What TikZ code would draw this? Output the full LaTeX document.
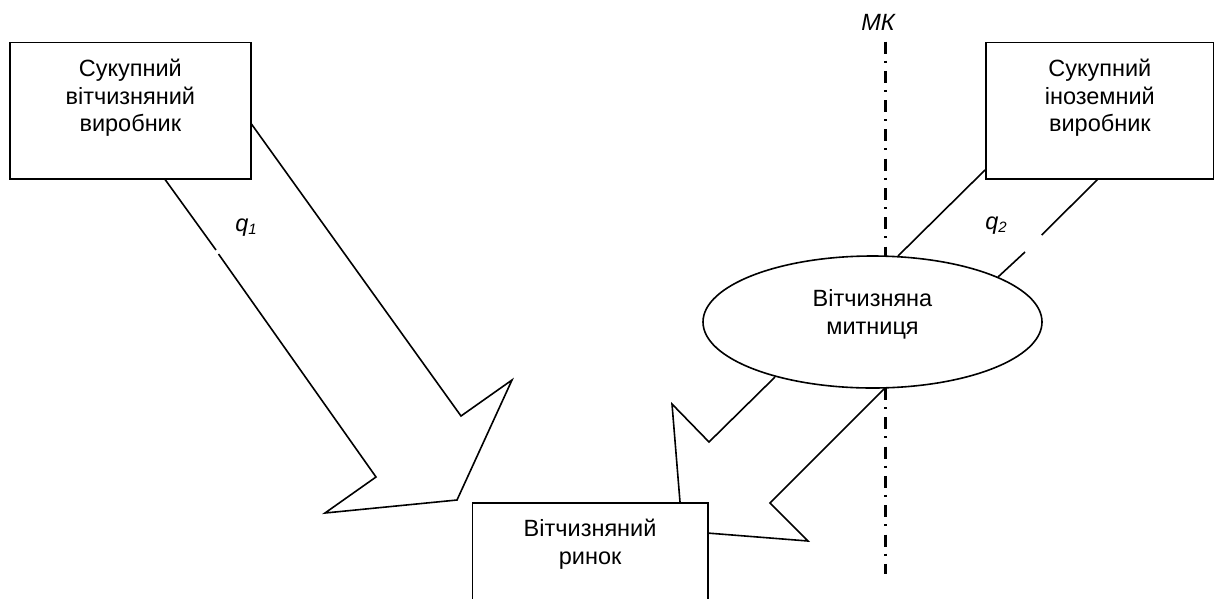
\documentclass[tikz,border=0pt]{standalone}
\usepackage{fontspec}
\setmainfont{Liberation Sans}
\usetikzlibrary{shapes.geometric}
\tikzset{
  boxn/.style={draw=black,line width=1.7pt,fill=white,inner sep=0pt,font=\fontsize{23.5}{27.6}\selectfont,align=center,text=black},
  ovaln/.style={shape=ellipse,draw=black,line width=1.6pt,fill=white,inner sep=0pt,font=\fontsize{23.5}{27.6}\selectfont,align=center,text=black},
  qlab/.style={font=\fontsize{23.5}{27}\selectfont\itshape,inner sep=0pt,text=black},
  edge/.style={draw=black,line width=1.6pt,line join=miter},
  axisline/.style={draw=black,line width=2.6pt,dash pattern=on 12pt off 7pt on 2pt off 8.3pt}
}
\newcommand{\qsub}[1]{\raisebox{-0.2ex}{\fontsize{15}{15}\selectfont #1}}
\begin{document}
\begin{tikzpicture}[x=1pt,y=-1pt]
\useasboundingbox (0,0) rectangle (1214,598);
\fill[white] (0,0) rectangle (1214,598);
% axis
\coordinate (mk1) at (885.5,41.5);
\coordinate (mk2) at (885.5,256);
\coordinate (mk3) at (885.5,388);
\coordinate (mk4) at (885.5,573.5);
\draw[axisline] (mk1) -- (mk2);
\draw[axisline] (mk3) -- (mk4);
% left arrow
\coordinate (a1) at (164,178);
\coordinate (a2) at (216,250);
\coordinate (a3) at (218.5,254);
\coordinate (a4) at (376,477);
\coordinate (a5) at (325,513);
\coordinate (a6) at (457,500);
\coordinate (a7) at (512,380);
\coordinate (a8) at (461,416);
\coordinate (a9) at (250,122);
\draw[edge] (a1) -- (a2);
\draw[edge] (a3) -- (a4) -- (a5) -- (a6) -- (a7) -- (a8) -- (a9);
% right arrow
\coordinate (b1) at (985,170);
\coordinate (b2) at (898,256);
\coordinate (b3) at (1099,178);
\coordinate (b4) at (1041.7,235);
\coordinate (b5) at (1025,252);
\coordinate (b6) at (998,277);
\coordinate (b7) at (775,377);
\coordinate (b8) at (709,442);
\coordinate (b9) at (672,404);
\coordinate (b10) at (680,502);
\coordinate (b11) at (707,533);
\coordinate (b12) at (808,541);
\coordinate (b13) at (770,503);
\coordinate (b14) at (885,388);
\draw[edge] (b1) -- (b2);
\draw[edge] (b3) -- (b4);
\draw[edge] (b5) -- (b6);
\draw[edge] (b7) -- (b8) -- (b9) -- (b10);
\draw[edge] (b11) -- (b12) -- (b13) -- (b14);
% nodes
\node[boxn,minimum width=241pt,minimum height=136.5pt,anchor=north west] (prod1) at (9,41.5) {Сукупний\\вітчизняний\\виробник\\[3pt]\mbox{}};
\node[boxn,minimum width=228pt,minimum height=136.5pt,anchor=north west] (prod2) at (985,41.5) {Сукупний\\іноземний\\виробник\\[3pt]\mbox{}};
\node[boxn,minimum width=235.5pt,minimum height=110pt,anchor=north west] (market) at (471.5,502) {Вітчизняний\\ринок\\[5pt]\mbox{}};
\node[ovaln,minimum width=339pt,minimum height=132pt] (customs) at (872.5,322) {Вітчизняна\\митниця\\[-8pt]\mbox{}};
\node[qlab] (q1) at (246,228) {q\qsub{1}};
\node[qlab] (q2) at (996,226) {q\qsub{2}};
\node[qlab] (mk) at (878,22) {МК};
\end{tikzpicture}
\end{document}
